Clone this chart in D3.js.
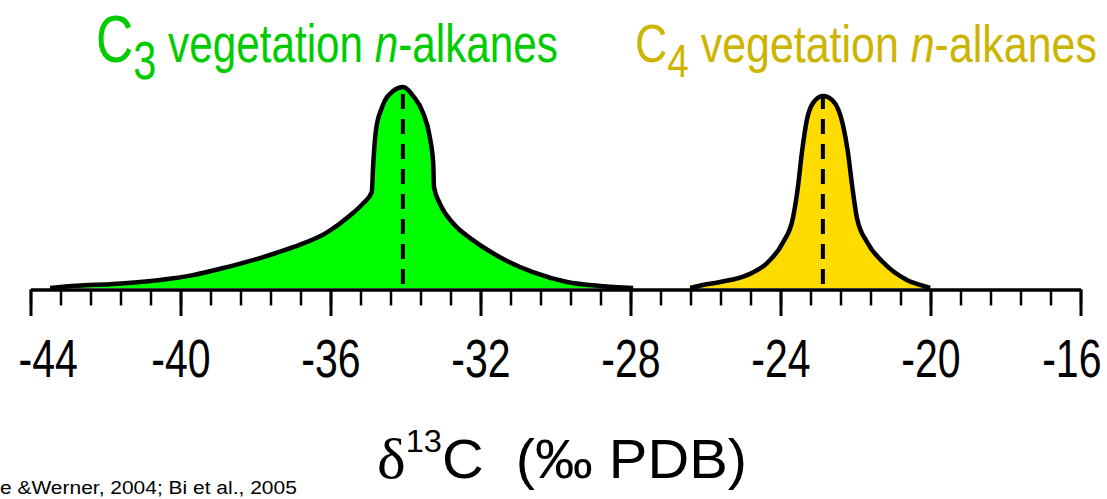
<!DOCTYPE html>
<html>
<head>
<meta charset="utf-8">
<script src="https://cdn.jsdelivr.net/npm/d3@7"></script>
<style>
  html, body { margin: 0; padding: 0; background: #fff; }
  svg { display: block; }
  text { font-family: "Liberation Sans", Arial, sans-serif; }
</style>
</head>
<body>
<svg id="chart" width="1107" height="499"></svg>
<script>
// δ13C distributions of n-alkanes from C3 and C4 vegetation
const c3Delta = [-43.48, -42.76, -41.8, -41.08, -40.55, -39.67, -38.76, -37.88, -37.0, -36.09,
                 -35.48, -35.13, -34.9, -34.86, -34.79, -34.63, -34.33, -34.07, -33.79, -33.53,
                 -33.35, -33.26, -33.24, -33.08, -32.73, -32.2, -31.48, -30.6, -29.69, -28.81, -27.93];
const c3Density = [0, 0.011, 0.02, 0.03, 0.04, 0.064, 0.104, 0.149, 0.203, 0.277,
                   0.361, 0.421, 0.477, 0.617, 0.782, 0.897, 0.98, 1.0, 0.954, 0.871,
                   0.749, 0.617, 0.502, 0.419, 0.322, 0.238, 0.153, 0.079, 0.03, 0.01, 0];

const c4Delta = [-26.41, -26.07, -25.61, -24.89, -24.36, -23.93, -23.67, -23.53, -23.43, -23.29,
                 -23.13, -22.87, -22.6, -22.33, -22.2, -22.09, -21.96, -21.69, -21.27, -20.63,
                 -20.28, -20.01];
const c4Density = [0, 0.015, 0.03, 0.064, 0.124, 0.228, 0.347, 0.51, 0.673, 0.842,
                   0.921, 0.955, 0.931, 0.807, 0.673, 0.51, 0.347, 0.228, 0.129, 0.04,
                   0.015, 0];

const majorTicks = [-44, -40, -36, -32, -28, -24, -20, -16];
const minorTicks = [-44, -43.2, -42.4, -41.6, -40.8, -40, -39.2, -38.4, -37.6, -36.8,
                    -36, -35.2, -34.4, -33.6, -32.8, -32, -31.2, -30.4, -29.6, -28.8,
                    -28, -27.2, -26.4, -25.6, -24.8, -24, -23.2, -22.4, -21.6, -20.8,
                    -20, -19.2, -18.4, -17.6, -16.8, -16];

const svg = d3.select("#chart");

const x = d3.scaleLinear().domain([-44, -16]).range([30.5, 1080.5]);
const y = d3.scaleLinear().domain([0, 1]).range([288, 87]);

// axis: long baseline with minor and major ticks
const axisY = 289.5;
const minorAxis = d3.axisBottom(x).tickValues(minorTicks).tickSize(16).tickSizeOuter(0).tickFormat("");
const gMinor = svg.append("g").attr("transform", `translate(0,${axisY})`).call(minorAxis);
gMinor.select(".domain").attr("stroke", "#000").attr("stroke-width", 3.5);
gMinor.selectAll(".tick line").attr("stroke", "#000").attr("stroke-width", 2.5);

const majorAxis = d3.axisBottom(x).tickValues(majorTicks).tickSize(26.5).tickSizeOuter(0)
  .tickFormat(d => d3.format("d")(d).replace("−", "-"));
const gMajor = svg.append("g").attr("transform", `translate(0,${axisY})`).call(majorAxis);
gMajor.select(".domain").remove();
gMajor.selectAll(".tick line").attr("stroke", "#000").attr("stroke-width", 3);

const labelScale = 0.76;
gMajor.selectAll(".tick text")
  .attr("fill", "#000")
  .attr("font-size", 54)
  .attr("font-family", "'Liberation Sans', Arial, sans-serif")
  .attr("dy", 0)
  .attr("y", 0)
  .each(function(d) {
    const t = d3.select(this);
    const w = this.getComputedTextLength() * labelScale;
    const cx = x(d);
    const c = Math.max(18 + w / 2, Math.min(1101 - w / 2, cx));
    t.attr("transform", `translate(${c - cx},${377 - axisY}) scale(${labelScale},1)`)
     .attr("x", 0);
  });

// distributions
function drawDistribution(xs, ys, fill) {
  const pts = xs.map((d, i) => [d, ys[i]]);
  const area = d3.area().x(p => x(p[0])).y0(y(0)).y1(p => y(p[1])).curve(d3.curveMonotoneX);
  const line = d3.line().x(p => x(p[0])).y(p => y(p[1])).curve(d3.curveMonotoneX);
  svg.append("path").datum(pts).attr("d", area).attr("fill", fill).attr("stroke", "none");
  svg.append("path").datum(pts).attr("d", line).attr("fill", "none")
    .attr("stroke", "#000").attr("stroke-width", 4.5).attr("stroke-linejoin", "round");
  const peak = pts.reduce((a, b) => (b[1] > a[1] ? b : a));
  svg.append("line")
    .attr("x1", x(peak[0])).attr("x2", x(peak[0]))
    .attr("y1", y(0) - 4).attr("y2", y(peak[1]))
    .attr("stroke", "#000").attr("stroke-width", 4)
    .attr("stroke-dasharray", "15,10");
}
drawDistribution(c3Delta, c3Density, "#00ff00");
drawDistribution(c4Delta, c4Density, "#ffdc00");

// fit a text block horizontally into [left, right]
function fitText(g, left, right) {
  const bb = g.select("text").node().getBBox();
  const s = (right - left) / bb.width;
  g.attr("transform", `translate(${left - bb.x * s},0) scale(${s},1)`);
}

// series titles
function title(left, right, baseline, capSize, sub, subSize, subDy, bodySize, color) {
  const g = svg.append("g");
  const t = g.append("text").attr("x", 0).attr("y", baseline).attr("fill", color);
  t.append("tspan").attr("font-size", capSize).text("C");
  t.append("tspan").attr("font-size", subSize).attr("dy", subDy).text(sub);
  t.append("tspan").attr("font-size", bodySize).attr("dy", -subDy).text("\u00a0vegetation\u00a0");
  t.append("tspan").attr("font-size", bodySize).attr("font-style", "italic").text("n");
  t.append("tspan").attr("font-size", bodySize).text("-alkanes");
  fitText(g, left, right);
}
title(96, 558, 62, 66, "3", 53, 17, 54, "#00cc00");
title(635, 1097, 62, 54, "4", 47, 15, 52, "#ccb400");

// x-axis title
{
  const g = svg.append("g");
  const t = g.append("text").attr("x", 0).attr("y", 478).attr("fill", "#000");
  t.append("tspan").attr("font-family", "'Liberation Serif', 'Times New Roman', serif")
    .attr("font-size", 58).text("δ");
  t.append("tspan").attr("font-size", 31).attr("dy", -26).text("13");
  t.append("tspan").attr("font-size", 55).attr("dy", 26).text("C\u00a0\u00a0(‰\u00a0PDB)");
  fitText(g, 377, 747);
}

// source note
{
  const g = svg.append("g");
  g.append("text").attr("x", 0).attr("y", 494).attr("font-size", 19).attr("fill", "#000")
    .text("e &Werner, 2004; Bi et al., 2005");
  fitText(g, 0, 297);
}
</script>
</body>
</html>
